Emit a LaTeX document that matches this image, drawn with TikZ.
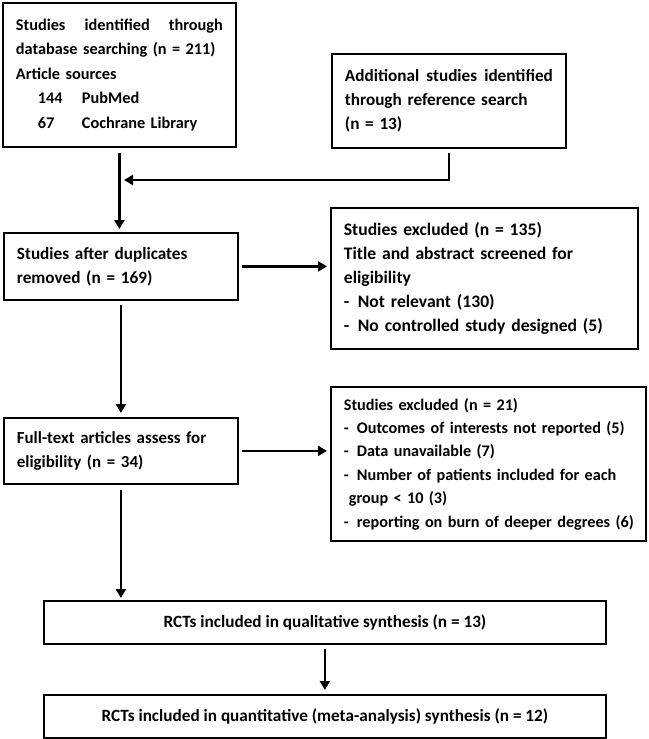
\documentclass[tikz,border=0pt]{standalone}
\usepackage{fontspec}
\setmainfont{Carlito}
\usetikzlibrary{arrows.meta,calc}
\newcommand{\fs}[2]{\fontsize{#1}{#2}\selectfont\bfseries}
\newcommand{\spreadline}[2]{\leavevmode\hbox to #1{#2}}
\begin{document}
\begin{tikzpicture}[x=1pt,y=-1pt,
  box/.style={draw, line width=1.8pt, anchor=north west, inner ysep=0pt, inner xsep=13pt,
    align=left, font=\fs{17.2}{24}},
  cbox/.style={draw, line width=1.8pt, anchor=north west, inner sep=0pt,
    align=center, font=\fs{17.2}{24}},
  arr/.style={line width=2.2pt, -{Triangle[length=9pt,width=10pt]}},
]
\useasboundingbox (0,0) rectangle (648,739);

\node[box, minimum width=233pt, minimum height=144pt, text width=207pt, font=\fs{16.3}{24.6}] (b1) at (2,2)
{\spreadline{207pt}{Studies\hfill identified\hfill through}\\
\mbox{database searching (n = 211)}\\
Article sources\\
\hspace*{22pt}\makebox[44pt][l]{144}PubMed\\
\hspace*{22pt}\makebox[44pt][l]{67}Cochrane Library};

\node[box, minimum width=234pt, minimum height=94pt, text width=208pt] (b2) at (331,53)
{\spreadline{208pt}{Additional\hfill studies\hfill identified}\\
\mbox{through reference search}\\
(n = 13)};

\node[box, minimum width=234pt, minimum height=67pt, text width=208pt] (b3) at (3,232)
{\mbox{Studies after duplicates}\\
removed (n = 169)};

\node[box, minimum width=307pt, minimum height=141pt, text width=281pt, font=\fs{17.6}{24}] (b4) at (330,207)
{Studies excluded (n = 135)\\
\mbox{Title and abstract screened for}\\
eligibility\\
\makebox[14pt][l]{-}Not relevant (130)\\
\mbox{\makebox[14pt][l]{-}No controlled study designed (5)}};

\node[box, minimum width=234pt, minimum height=66pt, text width=208pt, font=\fs{16.9}{24}] (b5) at (3,417)
{\mbox{Full-text articles assess for}\\
eligibility (n = 34)};

\node[box, minimum width=315pt, minimum height=154pt, text width=289pt, font=\fs{16.2}{23.4}] (b6) at (330,386)
{Studies excluded (n = 21)\\
\mbox{\makebox[13pt][l]{-}Outcomes of interests not reported (5)}\\
\makebox[13pt][l]{-}Data unavailable (7)\\
\mbox{\makebox[13pt][l]{-}Number of patients included for each}\\
\hspace*{5pt}group < 10 (3)\\
\mbox{\makebox[13pt][l]{-}reporting on burn of deeper degrees (6)}};

\node[cbox, minimum width=562pt, minimum height=43pt] (b7) at (43,600)
{RCTs included in qualitative synthesis (n = 13)};

\node[cbox, minimum width=562pt, minimum height=43pt] (b8) at (43,694)
{RCTs included in quantitative (meta-analysis) synthesis (n = 12)};

\coordinate (mrg) at (124,180);

\draw[arr, shorten <=5pt, shorten >=3pt] (b1.south) -- (b1.south |- b3.north);
\draw[arr, shorten <=4pt] (b2.south) |- (mrg);
\draw[arr, shorten <=3pt, shorten >=3pt] (b3.east) -- (b3.east -| b4.west);
\draw[arr, shorten <=4pt, shorten >=4pt] (b3.south) -- (b3.south |- b5.north);
\draw[arr, shorten <=3pt, shorten >=3pt] (b5.east) -- (b5.east -| b6.west);
\draw[arr, shorten <=5pt, shorten >=2pt] (b5.south) -- (b5.south |- b7.north);
\draw[arr, shorten <=4pt, shorten >=4pt] (b7.south) -- (b8.north);
\end{tikzpicture}
\end{document}
